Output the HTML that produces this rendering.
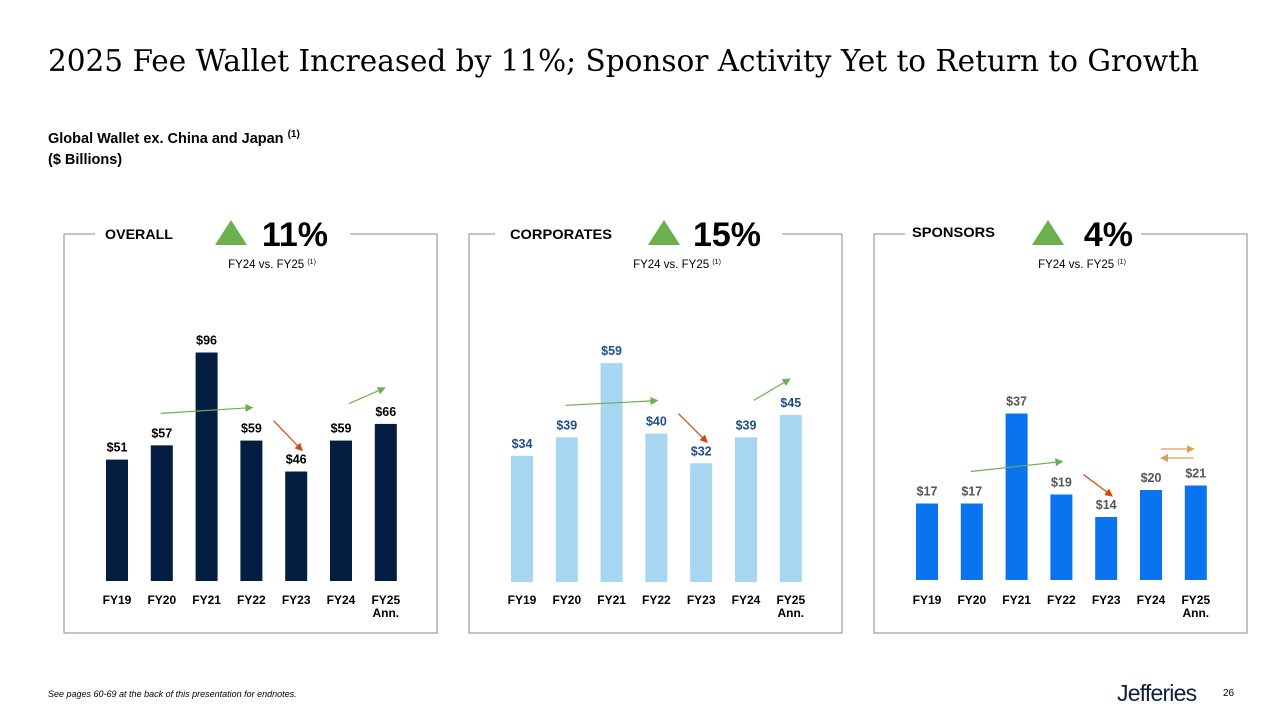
<!DOCTYPE html>
<html><head><meta charset="utf-8">
<style>
body{margin:0;width:1280px;height:720px;background:#fff;overflow:hidden;position:relative;font-family:"Liberation Sans",Arial,sans-serif}
.abs{position:absolute}
</style></head>
<body>
<div class="abs" style="left:48px;top:44px;font-family:'DejaVu Serif',serif;font-size:29.5px;color:#000;white-space:nowrap">2025 Fee Wallet Increased by 11%; Sponsor Activity Yet to Return to Growth</div>
<div class="abs" style="left:48px;top:124px;font-size:14.5px;font-weight:bold;line-height:21px;color:#000">Global Wallet ex. China and Japan <sup style="font-size:10px">(1)</sup><br>($ Billions)</div>
<svg class="abs" id="chart" style="left:0;top:0" width="1280" height="720" font-family="Liberation Sans, Arial, sans-serif"></svg>
<div class="abs" style="left:48px;top:689px;font-size:9px;font-style:italic;color:#000">See pages 60-69 at the back of this presentation for endnotes.</div>
<div class="abs" style="left:1117px;top:680px;font-size:23px;color:#0b1f3a;letter-spacing:-0.8px">Jefferies</div>
<div class="abs" style="left:1223px;top:688px;font-size:10px;color:#000">26</div>
<script>
const categories=["FY19","FY20","FY21","FY22","FY23","FY24","FY25"];
const overallValues=[51,57,96,59,46,59,66];
const corporateValues=[34,39,59,40,32,39,45];
const sponsorValues=[17,17,37,19,14,20,21];
const panelTitles=["OVERALL","CORPORATES","SPONSORS"];
const growthLabels=["11%","15%","4%"];
const NS="http://www.w3.org/2000/svg";
const svg=document.getElementById('chart');
function mk(tag,attrs,parent){const e=document.createElementNS(NS,tag);for(const k in attrs)e.setAttribute(k,attrs[k]);(parent||svg).appendChild(e);return e;}
const panels=[
 {x:64,vals:overallValues,color:"#041e42",lab:"#000",scale:2.38,base:581,gapL:95,gapR:350,title:"overall"},
 {x:469,vals:corporateValues,color:"#a6d6f2",lab:"#1f4e8c",scale:3.71,base:582,gapL:495,gapR:782,title:"corporates"},
 {x:874,vals:sponsorValues,color:"#0a74f0",lab:"#555",scale:4.5,base:580,gapL:905,gapR:1141,title:"sponsors"}
];
const defs=mk('defs',{});
[["g","#6ab04c"],["r","#d24a0c"],["o","#d9a05b"]].forEach(([id,c])=>{
 const m=mk('marker',{id:'ah'+id,markerWidth:8,markerHeight:8,refX:7,refY:4,orient:'auto',markerUnits:'userSpaceOnUse'},defs);
 mk('path',{d:'M0,0 L8,4 L0,8 z',fill:c},m);
});
panels.forEach((p,pi)=>{
 const g=mk('g',{});
 
 
 const x0=p.x,x1=p.x+373,top=234,bot=633;
 const border=mk('path',{d:`M${p.gapL},${top} H${x0} V${bot} H${x1} V${top} H${p.gapR}`,fill:'none',stroke:'#888','stroke-width':1},g);
 
 const tt=mk('text',{x:x0+(pi==2?38:41),y:pi==2?237:239,'font-size':14,'font-weight':'bold',fill:'#000',textLength:[68,102,83][pi],lengthAdjust:'spacingAndGlyphs'},g);
 tt.textContent=panelTitles[pi];
 
 const tx=[215,648,1032][pi];
 const tri=mk('polygon',{points:`${tx},245 ${tx+32},245 ${tx+16},220`,fill:'#6ab04c'},g);
 
 const gt=mk('text',{x:[328,761,1133][pi],y:246,'font-size':34,'font-weight':'bold','text-anchor':'end',fill:'#000'},g);
 gt.textContent=growthLabels[pi];
 
 const st=mk('text',{x:x0+208,y:268,'font-size':11.5,'text-anchor':'middle',fill:'#000'},g);
 st.innerHTML='FY24 vs. FY25 <tspan font-size="7" dy="-4">(1)</tspan>';
 
 const xc=i=>x0+53+i*44.8;
 const yv=v=>p.base-v*p.scale;
 p.vals.forEach((v,i)=>{
  const r=mk('rect',{x:xc(i)-11,y:yv(v),width:22,height:p.base-yv(v),fill:p.color},g);
  
  
  const t=mk('text',{x:xc(i),y:yv(v)-8,'font-size':12.5,'font-weight':'bold','text-anchor':'middle',fill:p.lab},g);
  t.textContent='$'+v;
  
  const c=mk('text',{x:xc(i),y:604,'font-size':12,'font-weight':'bold','text-anchor':'middle',fill:'#000'},g);
  c.textContent=categories[i];
  
  if(i==6){const a=mk('text',{x:xc(i),y:617,'font-size':12,'font-weight':'bold','text-anchor':'middle',fill:'#000'},g);a.textContent='Ann.';
   }
 });
 const line=(x1,y1,x2,y2,c,id,nm)=>{const l=mk('line',{x1,y1,x2,y2,stroke:c,'stroke-width':1.2,'marker-end':'url(#ah'+id+')'},g);
  };
 line(xc(1)-1,yv(p.vals[1])-32,xc(3)+1,yv(p.vals[3])-33,'#6ab04c','g','trend-arrow-up');
 line(xc(3)+22,yv(p.vals[3])-20,xc(4)+6,yv(p.vals[4])-21,'#d24a0c','r','trend-arrow-down');
 if(pi<2) line(xc(5)+8,yv(p.vals[5])-37,xc(6)-1,yv(p.vals[6])-36,'#6ab04c','g','trend-arrow-up-fy25');
 else {line(xc(5)+10,449,xc(6)-2,449,'#d9a05b','o','flat-arrow-right');line(xc(6)-2,458,xc(5)+10,458,'#d9a05b','o','flat-arrow-left');}
});
</script>
</body></html>
